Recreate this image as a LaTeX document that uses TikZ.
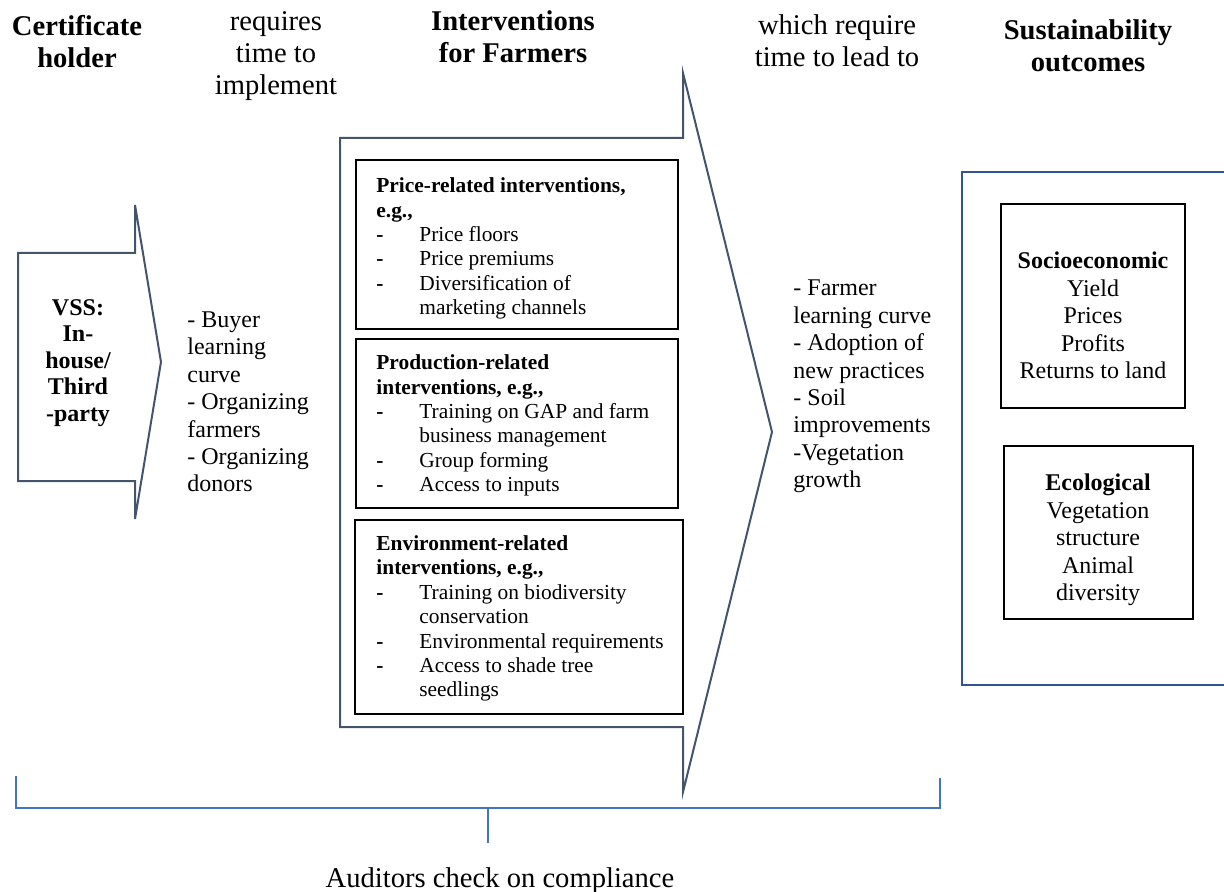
\documentclass[tikz,border=0pt]{standalone}
\usepackage{fontspec}
\setmainfont{Liberation Serif}
\definecolor{arrowgray}{HTML}{44546A}
\definecolor{outblue}{HTML}{2F5597}
\definecolor{brackblue}{HTML}{4472C4}
\newcommand{\headfont}{\fontsize{14.3}{16}\selectfont}
\newcommand{\midfont}{\fontsize{12}{13.7}\selectfont}
\newcommand{\vssfont}{\fontsize{12}{13.25}\selectfont}
\newcommand{\listfont}{\fontsize{10.7}{12.2}\selectfont}
\newcommand{\dashitem}[1]{\makebox[21.5pt][l]{\textbf{-}}#1}
\newcommand{\contitem}[1]{\hspace*{21.5pt}#1}

\begin{document}
\begin{tikzpicture}[x=0.5pt,y=-0.5pt]
    \tikzstyle{arrowline}=[draw,line width=1pt,arrowgray,line join=miter]
    \tikzstyle{listbox}=[draw,line width=1.2pt,black,inner sep=0pt]
    \tikzstyle{outframe}=[draw,line width=1.2pt,outblue]
    \tikzstyle{bracket}=[draw,line width=0.6pt,brackblue]
    \tikzstyle{head}=[align=center,inner sep=0pt,font=\headfont]
    \tikzstyle{boldhead}=[align=center,inner sep=0pt,font=\headfont\bfseries]
    \tikzstyle{midtext}=[align=left,anchor=west,inner sep=0pt,font=\midfont]
    \tikzstyle{listtext}=[align=left,anchor=west,inner sep=0pt,font=\listfont]
    \tikzstyle{outtext}=[align=center,inner sep=0pt,font=\midfont]
    \useasboundingbox (0,0) rectangle (1224,892);
    \draw[arrowline] (18,253) -- (135,253) -- (135,205) -- (161,362) -- (135,519) -- (135,481) -- (18,481) -- cycle;
    \draw[arrowline] (340,138) -- (683,138) -- (683,73) -- (772,432) -- (683,792) -- (683,727) -- (340,727) -- cycle;
    \draw[outframe] (1224,172) -- (962,172) -- (962,685) -- (1224,685);
    \node[boldhead] (certhead) at (77,42) {Certificate\\holder};
    \node[head] (implhead) at (276,56) {requires\\time to\\implement};
    \node[boldhead] (intvhead) at (513,37) {Interventions\\for Farmers};
    \node[head] (leadhead) at (837,41) {which require\\time to lead to};
    \node[boldhead] (outhead) at (1088,46) {Sustainability\\outcomes};
    \node[align=center,inner sep=0pt,font=\vssfont\bfseries] (vss) at (78,363) {VSS:\\In-\\house/\\Third\\-party};
    \node[midtext] (buyer) at (187,402) {- Buyer\\learning\\curve\\- Organizing\\farmers\\- Organizing\\donors};
    \node[listbox,minimum width=161pt,minimum height=84.5pt] (pricebox) at (517,244.5) {};
    \node[listbox,minimum width=161pt,minimum height=84.5pt] (prodbox) at (517,423.5) {};
    \node[listbox,minimum width=164pt,minimum height=97pt] (envbox) at (519,617) {};
    \node[listtext] (price) at (376,248.5) {\textbf{Price-related interventions,}\\\textbf{e.g.,}\\\dashitem{Price floors}\\\dashitem{Price premiums}\\\dashitem{Diversification of}\\\contitem{marketing channels}};
    \node[listtext] (prod) at (376,425.5) {\textbf{Production-related}\\\textbf{interventions, e.g.,}\\\dashitem{Training on GAP and farm}\\\contitem{business management}\\\dashitem{Group forming}\\\dashitem{Access to inputs}};
    \node[listtext] (env) at (376,618.5) {\textbf{Environment-related}\\\textbf{interventions, e.g.,}\\\dashitem{Training on biodiversity}\\\contitem{conservation}\\\dashitem{Environmental requirements}\\\dashitem{Access to shade tree}\\\contitem{seedlings}};
    \node[midtext] (farmer) at (793,386.5) {- Farmer\\learning curve\\- Adoption of\\new practices\\- Soil\\improvements\\-Vegetation\\growth};
    \node[listbox,minimum width=92pt,minimum height=102pt] (socbox) at (1093,306) {};
    \node[outtext] (soc) at (1093,315.5) {\textbf{Socioeconomic}\\Yield\\Prices\\Profits\\Returns to land};
    \node[listbox,minimum width=94.5pt,minimum height=86.5pt] (ecobox) at (1098.5,532.5) {};
    \node[outtext] (eco) at (1098,540) {\textbf{Ecological}\\Vegetation\\structure\\Animal\\diversity};
    \coordinate (brleft) at (16,776);
    \coordinate (brright) at (940,778);
    \coordinate (brmid) at (488,808);
    \draw[bracket] (brleft) -- (16,808) -- (940,808) -- (brright);
    \draw[bracket] (brmid) -- (488,843);
    \node[inner sep=0pt,font=\headfont] (audit) at (500,881) {Auditors check on compliance};
\end{tikzpicture}
\end{document}
